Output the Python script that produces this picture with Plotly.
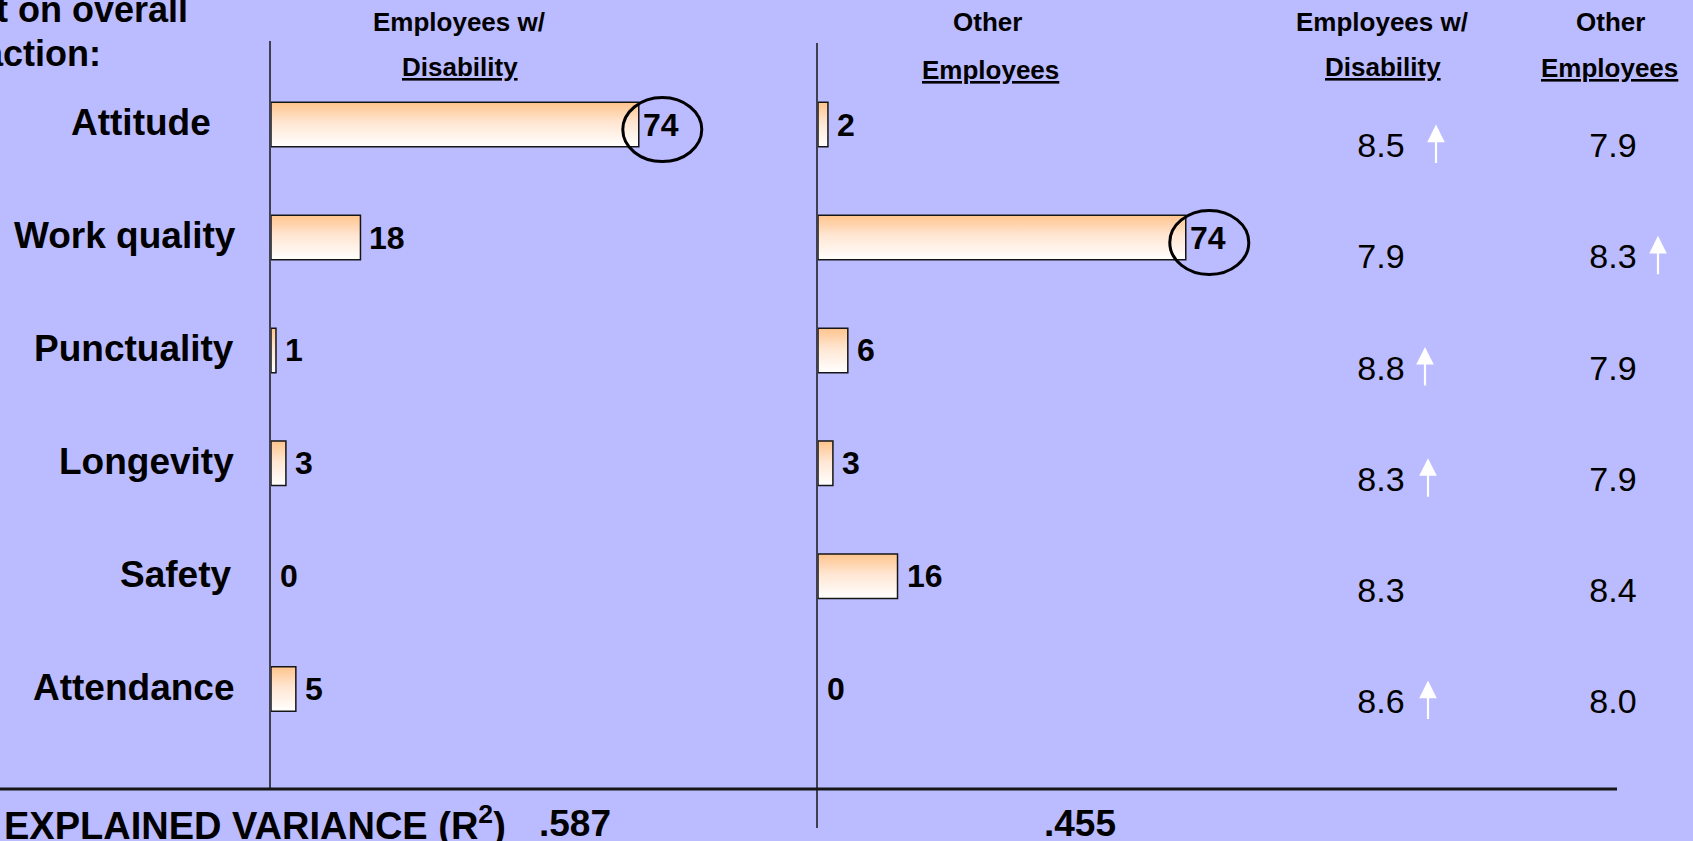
import plotly.graph_objects as go

# ---- data -------------------------------------------------------------
categories = ["Attitude", "Work quality", "Punctuality", "Longevity", "Safety", "Attendance"]
impact_disability = [74, 18, 1, 3, 0, 5]      # relative impact, employees w/ disability
impact_other = [2, 74, 6, 3, 16, 0]           # relative impact, other employees
rating_disability = [8.5, 7.9, 8.8, 8.3, 8.3, 8.6]
rating_other = [7.9, 8.3, 7.9, 7.9, 8.4, 8.0]
up_disability = [True, False, True, True, False, True]
up_other = [False, True, False, False, False, False]
r_squared = [0.587, 0.455]
header_disability = ["Employees w/", "Disability"]
header_other = ["Other", "Employees"]
title_lines = ["Impact on overall", "satisfaction:"]
variance_label = "TOTAL EXPLAINED VARIANCE (R<sup>2</sup>)"

# ---- page geometry ----------------------------------------------------
W, H = 1693, 841
FONT = "Liberation Sans, Arial, sans-serif"
BG = "#BBBBFF"
INK = "#161616"


def px(x):
    return x / W


def py(y):
    return 1 - y / H


n = len(categories)
rows = list(range(n))

PX_PER_UNIT = 4.97
ROW_TOP, ROW_STEP = 68.15, 112.9
BAR_HALF = 0.197
LEFT_ZERO, LEFT_END = 271, 800
MID_ZERO, MID_END = 818, 1290
TABLE_TOP, TABLE_STEP = 93.0, 111.2
COL_PX = [1381, 1613]
COL_UNIT = COL_PX[1] - COL_PX[0]
TABLE_LEFT = 1265

BAR_SCALE = [[0.0, "#ffc48c"], [0.45, "#ffe6d2"], [1.0, "#ffffff"]]

fig = go.Figure()

# ---- bars (filled outlines with a vertical gradient) ------------------
series = [("x", impact_disability), ("x2", impact_other)]
annotations = []
shapes = []
for xa, values in series:
    vmax = max(values)
    for i, v in enumerate(values):
        y0, y1 = i - BAR_HALF, i + BAR_HALF
        if v > 0:
            fig.add_trace(go.Scatter(
                x=[0, v, v, 0, 0], y=[y0, y0, y1, y1, y0],
                xaxis=xa, yaxis="y", mode="lines", fill="toself",
                line=dict(color=INK, width=1.5),
                fillgradient=dict(type="vertical", colorscale=BAR_SCALE, start=y0, stop=y1),
                hoverinfo="skip", showlegend=False,
            ))
        circled = v == vmax
        annotations.append(dict(
            x=v, y=i, xref=xa, yref="y", text=str(v), showarrow=False,
            xanchor="left", yanchor="middle", xshift=2 if circled else 7,
            font=dict(family=FONT, size=32, color="black", weight=700),
        ))
        if circled:
            shapes.append(dict(
                type="circle", xref=xa, yref="y",
                xsizemode="pixel", xanchor=v, x0=-16, x1=63,
                ysizemode="pixel", yanchor=i, y0=-37, y1=27,
                line=dict(color="black", width=3),
            ))

# ---- category labels --------------------------------------------------
label_right_px = [213, 238, 236, 236, 233, 236]
for i, name in enumerate(categories):
    annotations.append(dict(
        x=px(label_right_px[i]), y=i, xref="paper", yref="y", text=name,
        showarrow=False, xanchor="right", yanchor="middle", yshift=2,
        font=dict(family=FONT, size=37, color="black", weight=700),
    ))

# ---- ratings table ----------------------------------------------------
for col, ratings in enumerate([rating_disability, rating_other]):
    fig.add_trace(go.Scatter(
        x=[col] * n, y=rows, xaxis="x3", yaxis="y2", mode="text",
        text=[f"{r:.1f}" for r in ratings], textposition="middle center",
        textfont=dict(family=FONT, size=34, color="black"),
        hoverinfo="skip", showlegend=False,
    ))

arrow_gap_d = [55, 47, 44, 47, 47, 47]
arrow_gap_o = [45, 45, 45, 45, 45, 45]
for col, (flags, gaps) in enumerate([(up_disability, arrow_gap_d), (up_other, arrow_gap_o)]):
    for i, up in enumerate(flags):
        if up:
            annotations.append(dict(
                x=col, y=i, xref="x3", yref="y2", text="", showarrow=True,
                ax=0, ay=40, xshift=gaps[i], yshift=24,
                arrowhead=2, arrowsize=1.6, arrowwidth=2.2, arrowcolor="white",
            ))

# ---- headers ----------------------------------------------------------
def header(x, y, text, size=26):
    annotations.append(dict(
        x=px(x), y=py(y), xref="paper", yref="paper", text=text, showarrow=False,
        xanchor="center", yanchor="middle",
        font=dict(family=FONT, size=size, color="black", weight=700),
    ))


header(459, 22, header_disability[0])
header(460, 67, f"<u>{header_disability[1]}</u>")
header(987, 22, header_other[0])
header(990, 70, f"<u>{header_other[1]}</u>")
header(1382, 22, header_disability[0])
header(1383, 67, f"<u>{header_disability[1]}</u>")
header(1610, 22, header_other[0])
header(1609, 68, f"<u>{header_other[1]}</u>")

# ---- title (runs off the left edge) -----------------------------------
for (xr, yc), line in zip([(190, 9), (103, 53)], title_lines):
    annotations.append(dict(
        x=px(xr), y=py(yc), xref="paper", yref="paper", text=line, showarrow=False,
        xanchor="right", yanchor="middle",
        font=dict(family=FONT, size=36, color="black", weight=700),
    ))

# ---- explained variance row -------------------------------------------
annotations.append(dict(
    x=px(508), y=py(823), xref="paper", yref="paper", text=variance_label,
    showarrow=False, xanchor="right", yanchor="middle",
    font=dict(family=FONT, size=38, color="black", weight=700),
))
for xc, r2 in zip([575, 1080], r_squared):
    annotations.append(dict(
        x=px(xc), y=py(823), xref="paper", yref="paper",
        text=f"{r2:.3f}".lstrip("0"), showarrow=False,
        xanchor="center", yanchor="middle",
        font=dict(family=FONT, size=37, color="black", weight=700),
    ))

# ---- rules --------------------------------------------------------------
shapes += [
    dict(type="line", xref="paper", yref="paper", x0=px(270), x1=px(270),
         y0=py(41), y1=py(789), line=dict(color=INK, width=1.5)),
    dict(type="line", xref="paper", yref="paper", x0=px(817), x1=px(817),
         y0=py(43), y1=py(828), line=dict(color=INK, width=1.5)),
    dict(type="line", xref="paper", yref="paper", x0=0, x1=px(1617),
         y0=py(789), y1=py(789), line=dict(color=INK, width=3)),
]

hidden = dict(visible=False, showgrid=False, zeroline=False, fixedrange=True)
fig.update_layout(
    width=W, height=H, margin=dict(l=0, r=0, t=0, b=0),
    paper_bgcolor=BG, plot_bgcolor=BG, showlegend=False,
    xaxis=dict(domain=[px(LEFT_ZERO), px(LEFT_END)],
               range=[0, (LEFT_END - LEFT_ZERO) / PX_PER_UNIT], anchor="y", **hidden),
    xaxis2=dict(domain=[px(MID_ZERO), px(MID_END)],
                range=[0, (MID_END - MID_ZERO) / PX_PER_UNIT], anchor="y", **hidden),
    yaxis=dict(domain=[py(ROW_TOP + n * ROW_STEP), py(ROW_TOP)],
               range=[n - 0.5, -0.5], anchor="x", **hidden),
    xaxis3=dict(domain=[px(TABLE_LEFT), 1],
                range=[-(COL_PX[0] - TABLE_LEFT) / COL_UNIT, (W - COL_PX[0]) / COL_UNIT],
                anchor="y2", **hidden),
    yaxis2=dict(domain=[py(TABLE_TOP + n * TABLE_STEP), py(TABLE_TOP)],
                range=[n - 0.5, -0.5], anchor="x3", **hidden),
    annotations=annotations, shapes=shapes,
)

fig.write_html("out.html", config={"displayModeBar": False})
